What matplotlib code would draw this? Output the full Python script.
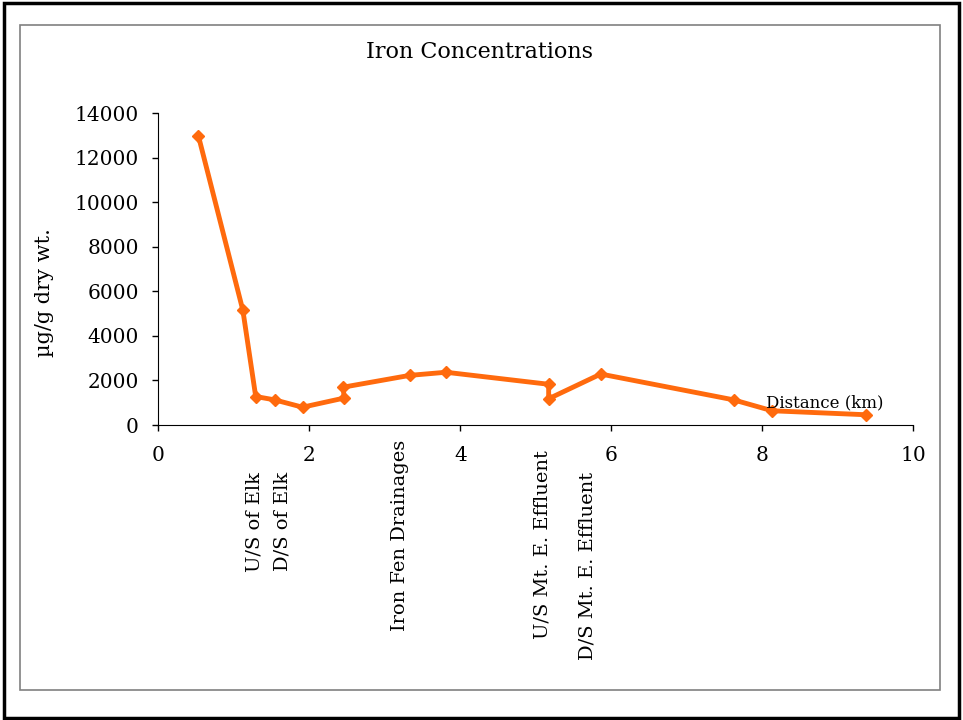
import matplotlib.pyplot as plt
from matplotlib.patches import Rectangle
from matplotlib.transforms import blended_transform_factory

# distance downstream (km) and iron concentration (ug/g dry wt.)
distance = [0.53, 1.12, 1.29, 1.54, 1.91, 2.46, 2.45, 3.33, 3.81, 5.17, 5.17, 5.86, 7.62, 8.13, 9.38]
iron = [13000, 5150, 1280, 1130, 800, 1210, 1700, 2230, 2370, 1830, 1180, 2290, 1130, 640, 460]

# site labels hung under the x axis
site_names = ["U/S of Elk", "D/S of Elk", "Iron Fen Drainages", "U/S Mt. E. Effluent", "D/S Mt. E. Effluent"]
site_x = [1.28, 1.65, 3.2, 5.09, 5.68]
site_top = [-0.15, -0.15, -0.048, -0.08, -0.15]

plt.rcParams["font.family"] = ["DejaVu Serif"]

fig = plt.figure(figsize=(9.63, 7.2), dpi=100)

# outer black border and inner grey chart frame
fig.patches.append(Rectangle((0.004, 0.003), 0.992, 0.993, transform=fig.transFigure,
                             fill=False, ec="black", lw=2.5))
fig.patches.append(Rectangle((0.0208, 0.0417), 0.955, 0.923, transform=fig.transFigure,
                             fill=False, ec="#808080", lw=1.2))

ax = fig.add_axes([0.1644, 0.4097, 0.784, 0.4329])
ax.plot(distance, iron, color="#FF6A0D", lw=3.5, marker="D", ms=6, clip_on=False)

ax.set_xlim(0, 10)
ax.set_ylim(0, 14000)
ax.set_xticks(range(0, 11, 2))
ax.set_yticks(range(0, 14001, 2000))
ax.spines[["top", "right"]].set_visible(False)
ax.tick_params(labelsize=14.5, length=4, width=1, direction="out")
ax.tick_params(axis="x", pad=11)
ax.tick_params(axis="y", pad=10)

fig.text(0.498, 0.928, "Iron Concentrations", ha="center", va="center", fontsize=16)
fig.text(0.046, 0.593, "µg/g dry wt.", rotation=90, ha="center", va="center", fontsize=15)
ax.text(0.883, 0.07, "Distance (km)", transform=ax.transAxes, ha="center", va="center", fontsize=12)

trans = blended_transform_factory(ax.transData, ax.transAxes)
for name, x, top in zip(site_names, site_x, site_top):
    ax.text(x, top, name, transform=trans, rotation=90, ha="center", va="top", fontsize=14)

fig.savefig("out.png", dpi=100)
